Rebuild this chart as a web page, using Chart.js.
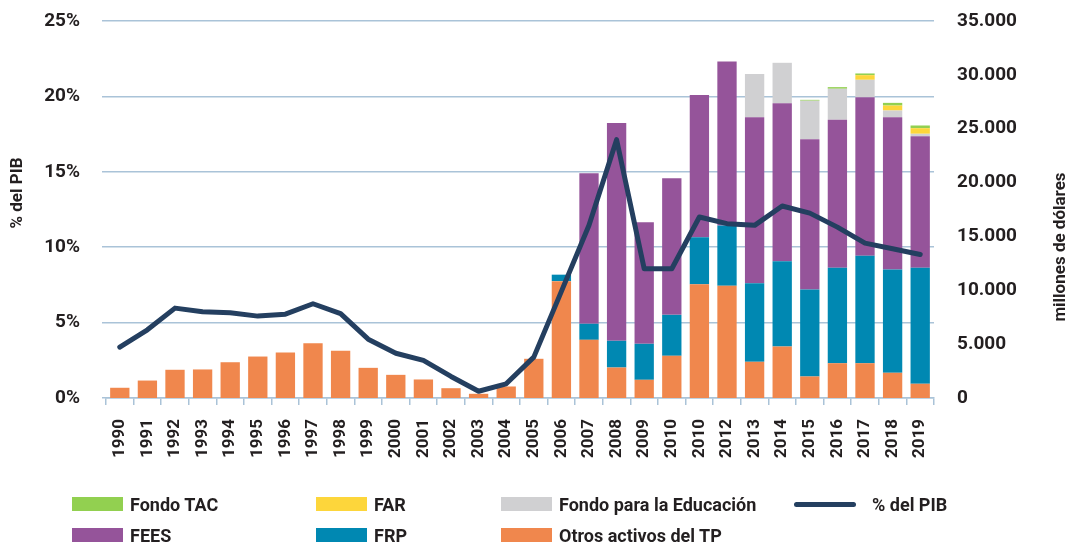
<!DOCTYPE html>
<html>
<head>
<meta charset="utf-8">
<script src="https://cdn.jsdelivr.net/npm/chart.js@4/dist/chart.umd.min.js"></script>
<style>
  html, body { margin: 0; padding: 0; background: #fff; }
  #wrap { position: relative; width: 1074px; height: 546px; }
  #legend { position: absolute; left: 0; top: 0; width: 1074px; height: 546px; pointer-events: none;
            font-family: Roboto, sans-serif; font-weight: bold; font-size: 18px; color: #231f20; }
  .item { position: absolute; display: flex; align-items: center; height: 20px; white-space: nowrap; }
  .sw { width: 51px; height: 14px; margin-right: 7px; }
  .ln { width: 62px; height: 5px; border-radius: 3px; margin-right: 16px; }
</style>
</head>
<body>
<div id="wrap">
  <canvas id="myChart" width="1074" height="546"></canvas>
  <div id="legend"></div>
</div>

<script>
    // Años (el original repite "2010" en lugar de 2011)
    const years = ['1990','1991','1992','1993','1994','1995','1996','1997','1998','1999',
                   '2000','2001','2002','2003','2004','2005','2006','2007','2008','2009',
                   '2010','2010','2012','2013','2014','2015','2016','2017','2018','2019'];

    // millones de dólares
    const otrosActivos = [950, 1620, 2620, 2650, 3320, 3850, 4220, 5090, 4380, 2800,
                          2150, 1720, 910, 390, 1070, 3640, 10850, 5400, 2830, 1690,
                          3920, 10570, 10420, 3360, 4780, 2000, 3230, 3230, 2340, 1320];
    const frp = [0, 0, 0, 0, 0, 0, 0, 0, 0, 0,
                 0, 0, 0, 0, 0, 0, 600, 1490, 2480, 3340,
                 3800, 4360, 5600, 7300, 7920, 8070, 8860, 9970, 9590, 10770];
    const fees = [0, 0, 0, 0, 0, 0, 0, 0, 0, 0,
                  0, 0, 0, 0, 0, 0, 0, 13980, 20210, 11290,
                  12690, 13190, 15220, 15410, 14670, 13960, 13740, 14730, 14140, 12220];
    const fondoEducacion = [0, 0, 0, 0, 0, 0, 0, 0, 0, 0,
                            0, 0, 0, 0, 0, 0, 0, 0, 0, 0,
                            0, 0, 0, 4000, 3750, 3570, 2880, 1610, 620, 220];
    const far = [0, 0, 0, 0, 0, 0, 0, 0, 0, 0,
                 0, 0, 0, 0, 0, 0, 0, 0, 0, 0,
                 0, 0, 0, 0, 0, 0, 0, 430, 460, 520];
    const fondoTac = [0, 0, 0, 0, 0, 0, 0, 0, 0, 0,
                      0, 0, 0, 0, 0, 0, 0, 0, 0, 0,
                      0, 0, 0, 0, 0, 80, 150, 160, 250, 250];

    // % del PIB
    const pctPib = [3.37, 4.52, 5.96, 5.72, 5.65, 5.43, 5.56, 6.25, 5.59, 3.90,
                    2.97, 2.49, 1.43, 0.45, 0.94, 2.71, 7.07, 11.45, 17.13, 8.57,
                    8.57, 12.00, 11.56, 11.45, 12.73, 12.26, 11.33, 10.27, 9.90, 9.52];

    const textColor = '#231f20';
    const gridColor = '#aac3d8';
    const tickFont = { family: 'Roboto', size: 19, weight: 'bold' };

    function miles(v) {
        return String(v).replace(/\B(?=(\d{3})+(?!\d))/g, '.');
    }

    function bar(label, data, color) {
        return { type: 'bar', label: label, data: data, backgroundColor: color,
                 borderWidth: 0, yAxisID: 'y1', order: 1 };
    }

    // fija el tamaño de cada eje y anula el margen extra de las etiquetas
    function fixSize(w, h) {
        return function (scale) {
            if (w) scale.width = w;
            if (h) scale.height = h;
            scale.paddingTop = 0;
            scale.paddingBottom = 0;
            scale.paddingLeft = 0;
            scale.paddingRight = 0;
        };
    }

    // Títulos de los ejes (no centrados en el área, como en el original)
    const axisTitles = {
        id: 'axisTitles',
        afterDraw(chart) {
            const ctx = chart.ctx;
            [['% del PIB', 18, 193], ['millones de dólares', 1061, 247]].forEach(([t, x, y]) => {
                ctx.save();
                ctx.fillStyle = textColor;
                ctx.font = 'bold 17px Roboto';
                ctx.textAlign = 'center';
                ctx.textBaseline = 'middle';
                ctx.translate(x, y);
                ctx.rotate(-Math.PI / 2);
                ctx.fillText(t, 0, 0);
                ctx.restore();
            });
        }
    };

    const ctx = document.getElementById('myChart').getContext('2d');
    const myChart = new Chart(ctx, {
        data: {
            labels: years,
            datasets: [
                bar('Otros activos del TP', otrosActivos, '#f0874d'),
                bar('FRP', frp, '#0088b2'),
                bar('FEES', fees, '#95549a'),
                bar('Fondo para la Educación', fondoEducacion, '#d0d0d2'),
                bar('FAR', far, '#fdd63b'),
                bar('Fondo TAC', fondoTac, '#92d050'),
                {
                    type: 'line',
                    label: '% del PIB',
                    data: pctPib,
                    borderColor: '#243f60',
                    backgroundColor: '#243f60',
                    borderWidth: 5,
                    pointRadius: 0,
                    tension: 0,
                    borderJoinStyle: 'round',
                    borderCapStyle: 'round',
                    yAxisID: 'y',
                    order: 0
                }
            ]
        },
        options: {
            responsive: false,
            animation: false,
            layout: { padding: { top: 21, left: 0, right: 0, bottom: 0 } },
            plugins: {
                legend: { display: false },
                tooltip: { enabled: false }
            },
            datasets: {
                bar: { categoryPercentage: 0.7, barPercentage: 1.0 }
            },
            scales: {
                x: {
                    stacked: true,
                    afterFit: fixSize(0, 148),
                    grid: { display: true, drawOnChartArea: false, drawTicks: true,
                            tickLength: 7, color: gridColor, lineWidth: 1.5, offset: true },
                    border: { display: true, color: gridColor, width: 1.5 },
                    ticks: { color: textColor, font: { family: 'Roboto', size: 17, weight: 'bold' },
                             maxRotation: 90, minRotation: 90, autoSkip: false, padding: 14 }
                },
                y: {
                    position: 'left',
                    min: 0,
                    max: 25,
                    afterFit: fixSize(106, 0),
                    grid: { color: gridColor, lineWidth: 1.5, drawTicks: true, tickLength: 4 },
                    border: { display: false },
                    ticks: { stepSize: 5, color: textColor, font: tickFont, padding: 22,
                             callback: v => v + '%' }
                },
                y1: {
                    position: 'right',
                    stacked: true,
                    min: 0,
                    max: 35000,
                    afterFit: fixSize(140, 0),
                    grid: { display: false, drawTicks: false },
                    border: { display: false },
                    ticks: { stepSize: 5000, color: textColor, font: tickFont, padding: 23,
                             callback: v => miles(v) }
                }
            }
        },
        plugins: [axisTitles]
    });

    // Leyenda en dos filas, como en el original
    const legendLayout = [
        ['Fondo TAC', 72, 504], ['FAR', 316, 504], ['Fondo para la Educación', 501, 504], ['% del PIB', 794, 504],
        ['FEES', 72, 535], ['FRP', 316, 535], ['Otros activos del TP', 501, 535]
    ];
    const legendEl = document.getElementById('legend');
    legendLayout.forEach(([name, left, cy]) => {
        const ds = myChart.data.datasets.find(d => d.label === name);
        const item = document.createElement('div');
        item.className = 'item';
        item.style.left = left + 'px';
        item.style.top = (cy - 10) + 'px';
        const sw = document.createElement('span');
        sw.className = ds.type === 'line' ? 'ln' : 'sw';
        sw.style.background = ds.type === 'line' ? ds.borderColor : ds.backgroundColor;
        item.appendChild(sw);
        item.appendChild(document.createTextNode(name));
        legendEl.appendChild(item);
    });
</script>
</body>
</html>
